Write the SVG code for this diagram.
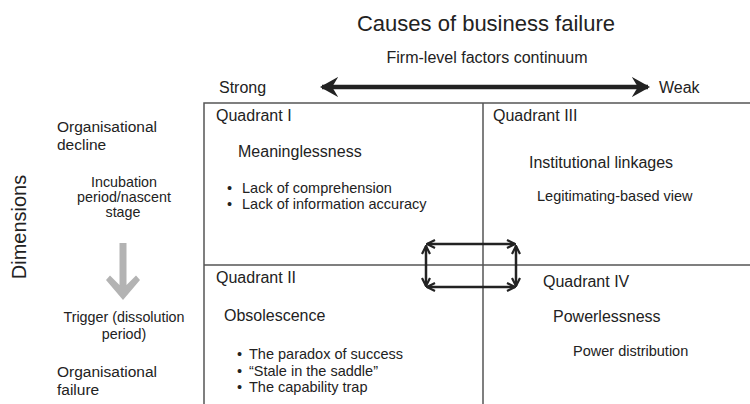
<svg xmlns="http://www.w3.org/2000/svg" width="750" height="404" viewBox="0 0 750 404">
<style>
text{font-family:"Liberation Sans",Arial,sans-serif;fill:#222;}
.t{font-size:22px;}
.d{font-size:20px;}
.m{font-size:16px;}
.s{font-size:14.5px;}
.l{font-size:15.5px;}
.ls{font-size:14.3px;}
.grid{stroke:#555;stroke-width:1.5;fill:none;}
.conn{stroke:#222;stroke-width:2.5;fill:none;}
.big{stroke:#222;stroke-width:4.5;fill:none;}
</style>
<defs>
<marker id="hd" viewBox="0 0 10 10" refX="9" refY="5" markerWidth="4" markerHeight="4" orient="auto-start-reverse" markerUnits="strokeWidth">
<path d="M1,1 L9,5 L1,9" fill="none" stroke="#222" stroke-width="2.2" stroke-linejoin="miter"/>
</marker>
<marker id="hb" viewBox="0 0 10 10" refX="8" refY="5" markerWidth="4.5" markerHeight="4.5" orient="auto-start-reverse" markerUnits="strokeWidth">
<path d="M0,0 L9,5 L0,10 L3,5 Z" fill="#222"/>
</marker>
</defs>
<g id="title">
<text class="t" x="486" y="31" text-anchor="middle">Causes of business failure</text>
<text class="m" x="487" y="63" text-anchor="middle">Firm-level factors continuum</text>
<text class="m" x="219" y="93">Strong</text>
<text class="m" x="659" y="93">Weak</text>
</g>
<g id="grid">
<path class="grid" d="M204,404 V103 H750 M483,103 V404 M204,265 H750"/>
</g>
<g id="left">
<text class="d" transform="translate(26,227) rotate(-90)" text-anchor="middle">Dimensions</text>
<text class="l" x="57" y="132">Organisational</text>
<text class="l" x="57" y="150">decline</text>
<text class="ls" x="124" y="187" text-anchor="middle">Incubation</text>
<text class="ls" x="124" y="202" text-anchor="middle">period/nascent</text>
<text class="ls" x="123" y="217" text-anchor="middle">stage</text>
<path d="M119.5,243 H126.5 V285 L136,275.5 L140,280 L123,300 L106,280 L110,275.5 L119.5,285 Z" fill="#b3b3b3"/>
<text class="ls" x="124" y="322" text-anchor="middle">Trigger (dissolution</text>
<text class="ls" x="124" y="339" text-anchor="middle">period)</text>
<text class="l" x="57" y="377">Organisational</text>
<text class="l" x="57" y="395">failure</text>
</g>
<g id="q1">
<text class="m" x="216" y="121">Quadrant I</text>
<text class="m" x="238" y="157">Meaninglessness</text>
<text class="s" x="227" y="193">•</text>
<text class="s" x="242" y="193">Lack of comprehension</text>
<text class="s" x="227" y="209">•</text>
<text class="s" x="242" y="209">Lack of information accuracy</text>
</g>
<g id="q3">
<text class="m" x="493" y="121">Quadrant III</text>
<text class="m" x="529" y="168">Institutional linkages</text>
<text class="s" x="537" y="201">Legitimating-based view</text>
</g>
<g id="q2">
<text class="m" x="216" y="283">Quadrant II</text>
<text class="m" x="224" y="321">Obsolescence</text>
<text class="s" x="237" y="359">•</text>
<text class="s" x="249" y="359">The paradox of success</text>
<text class="s" x="237" y="376">•</text>
<text class="s" x="249" y="376">“Stale in the saddle”</text>
<text class="s" x="237" y="392">•</text>
<text class="s" x="249" y="392">The capability trap</text>
</g>
<g id="q4">
<text class="m" x="543" y="287">Quadrant IV</text>
<text class="m" x="553" y="322">Powerlessness</text>
<text class="s" x="573" y="356">Power distribution</text>
</g>
<g id="connectors">
<line class="big" x1="322" y1="87" x2="648" y2="87" marker-start="url(#hb)" marker-end="url(#hb)"/>
<line class="conn" x1="427" y1="244" x2="515" y2="244" marker-start="url(#hd)" marker-end="url(#hd)"/>
<line class="conn" x1="427" y1="287" x2="515" y2="287" marker-start="url(#hd)" marker-end="url(#hd)"/>
<line class="conn" x1="426" y1="246" x2="426" y2="286" marker-start="url(#hd)" marker-end="url(#hd)"/>
<line class="conn" x1="516" y1="246" x2="516" y2="286" marker-start="url(#hd)" marker-end="url(#hd)"/>
</g>
</svg>
